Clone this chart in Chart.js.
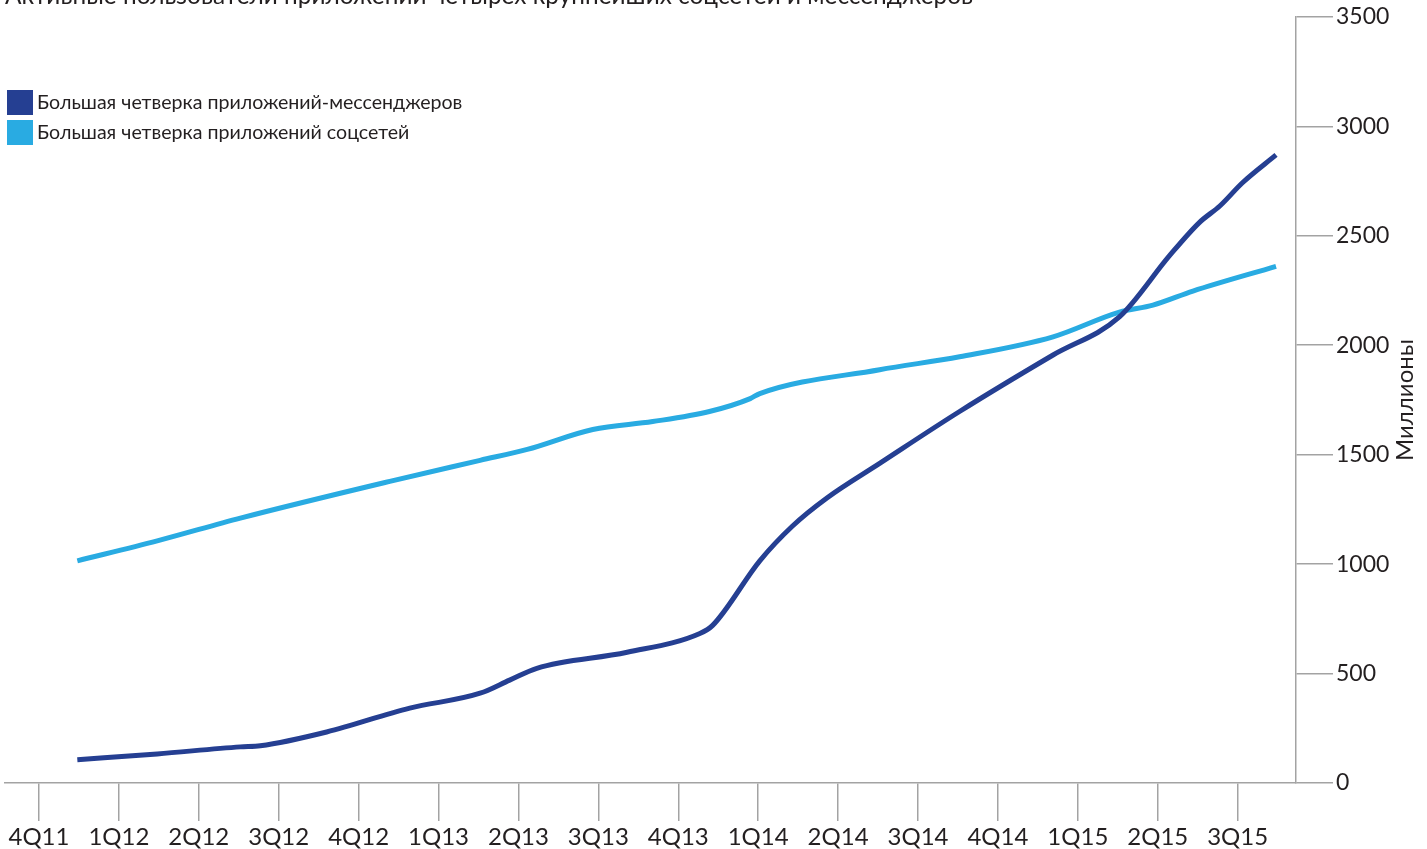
<!DOCTYPE html>
<html>
<head>
<meta charset="utf-8">
<script src="https://cdn.jsdelivr.net/npm/chart.js@4.4.0/dist/chart.umd.min.js"></script>
<style>
  html, body { margin: 0; padding: 0; background: #fff; }
  canvas { display: block; }
</style>
</head>
<body>
<canvas id="chart" width="1427" height="849"></canvas>
<script>
// ---- data (x in quarters counted from 4Q11) ----
const quarters = ["4Q11", "1Q12", "2Q12", "3Q12", "4Q12", "1Q13", "2Q13", "3Q13",
                  "4Q13", "1Q14", "2Q14", "3Q14", "4Q14", "1Q15", "2Q15", "3Q15"];

const messengerX = [0.48, 1.48, 2.52, 2.77, 3.6, 4.64, 5.52, 5.89, 6.23, 7.36, 8.27, 8.43,
                    9.02, 9.43, 9.86, 10.52, 11.52, 12.69, 13.52, 14.15, 14.52, 14.78, 15.06, 15.48];
const messengerY = [106, 133, 165, 170, 233, 342, 410, 470, 524, 597, 683, 720,
                    1015, 1174, 1302, 1460, 1697, 1955, 2129, 2410, 2560, 2637, 2742, 2869];

const socialX = [0.48, 1.48, 2.52, 4.39, 5.52, 6.11, 6.93, 7.68, 8.39, 8.9, 9.02,
                 10.52, 11.52, 12.69, 13.52, 13.94, 14.44, 15.48];
const socialY = [1015, 1106, 1210, 1378, 1474, 1524, 1615, 1651, 1697, 1756, 1779,
                 1888, 1947, 2038, 2151, 2183, 2247, 2360];

const yTicks = [0, 500, 1000, 1500, 2000, 2500, 3000, 3500];

const titleText = "Активные пользователи приложений четырех крупнейших соцсетей и мессенджеров";
const yTitle = "Миллионы";
const seriesNames = ["Большая четверка приложений-мессенджеров", "Большая четверка приложений соцсетей"];
const seriesColors = ["#253f92", "#29abe2"];

const axisGray = "#a3a3a3";
const textColor = "#231f20";
const axisFont = '"Liberation Sans Narrow", Lato, sans-serif';
const textFont = 'Lato, "Open Sans", sans-serif';

const toPoints = (xs, ys) => xs.map((x, i) => ({ x, y: ys[i] }));

/* ---------------- overlay texts ---------------- */
const overlay = {
    id: "overlay",
    afterDraw(chart) {
        const ctx = chart.ctx;
        ctx.save();
        ctx.fillStyle = textColor;

        // title, cut by the top edge like in the source
        ctx.font = "24.4px " + textFont;
        ctx.textBaseline = "alphabetic";
        ctx.textAlign = "left";
        ctx.fillText(titleText, 5, 4);

        // legend
        ctx.font = "19.6px " + textFont;
        ctx.textBaseline = "middle";
        chart.data.datasets.forEach((ds, i) => {
            const top = 90 + i * 30;
            ctx.fillStyle = ds.borderColor;
            ctx.fillRect(7, top, 26, 25);
            ctx.fillStyle = textColor;
            ctx.fillText(ds.label, 37, top + 13);
        });

        // y axis title, reading bottom to top
        ctx.font = "24px " + axisFont;
        ctx.translate(1405, 400);
        ctx.rotate(-Math.PI / 2);
        ctx.textAlign = "center";
        ctx.fillText(yTitle, 0, 0);
        ctx.restore();
    }
};

new Chart(document.getElementById("chart"), {
    type: "line",
    data: {
        datasets: [
            {
                label: seriesNames[0],
                data: toPoints(messengerX, messengerY),
                borderColor: seriesColors[0],
                backgroundColor: seriesColors[0]
            },
            {
                label: seriesNames[1],
                data: toPoints(socialX, socialY),
                borderColor: seriesColors[1],
                backgroundColor: seriesColors[1]
            }
        ]
    },
    options: {
        responsive: false,
        animation: false,
        devicePixelRatio: 1,
        layout: { padding: { left: 5, top: 13, right: 0, bottom: 0 } },
        elements: {
            line: { borderWidth: 5, tension: 0.35, cubicInterpolationMode: "monotone", borderCapStyle: "butt" },
            point: { radius: 0, hoverRadius: 0 }
        },
        plugins: {
            legend: { display: false },
            tooltip: { enabled: false }
        },
        scales: {
            x: {
                type: "linear",
                min: -0.425,
                max: 15.73,
                afterFit: s => { s.height = 66; },
                afterBuildTicks: s => { s.ticks = quarters.map((_, i) => ({ value: i })); },
                grid: { drawOnChartArea: false, color: axisGray, tickLength: 38, lineWidth: 1.5 },
                border: { color: axisGray, width: 1.5 },
                ticks: {
                    autoSkip: false,
                    maxRotation: 0,
                    padding: 2,
                    color: textColor,
                    font: { family: axisFont, size: 24 },
                    callback: v => quarters[v]
                }
            },
            y: {
                position: "right",
                min: 0,
                max: 3500,
                afterFit: s => { s.width = 131; },
                afterBuildTicks: s => { s.ticks = yTicks.map(v => ({ value: v })); },
                grid: { drawOnChartArea: false, color: axisGray, tickLength: 37, lineWidth: 1.5 },
                border: { color: axisGray, width: 1.5 },
                ticks: {
                    padding: 3,
                    color: textColor,
                    font: { family: axisFont, size: 23 },
                    callback: v => String(v)
                }
            }
        }
    },
    plugins: [overlay]
});
</script>
</body>
</html>
